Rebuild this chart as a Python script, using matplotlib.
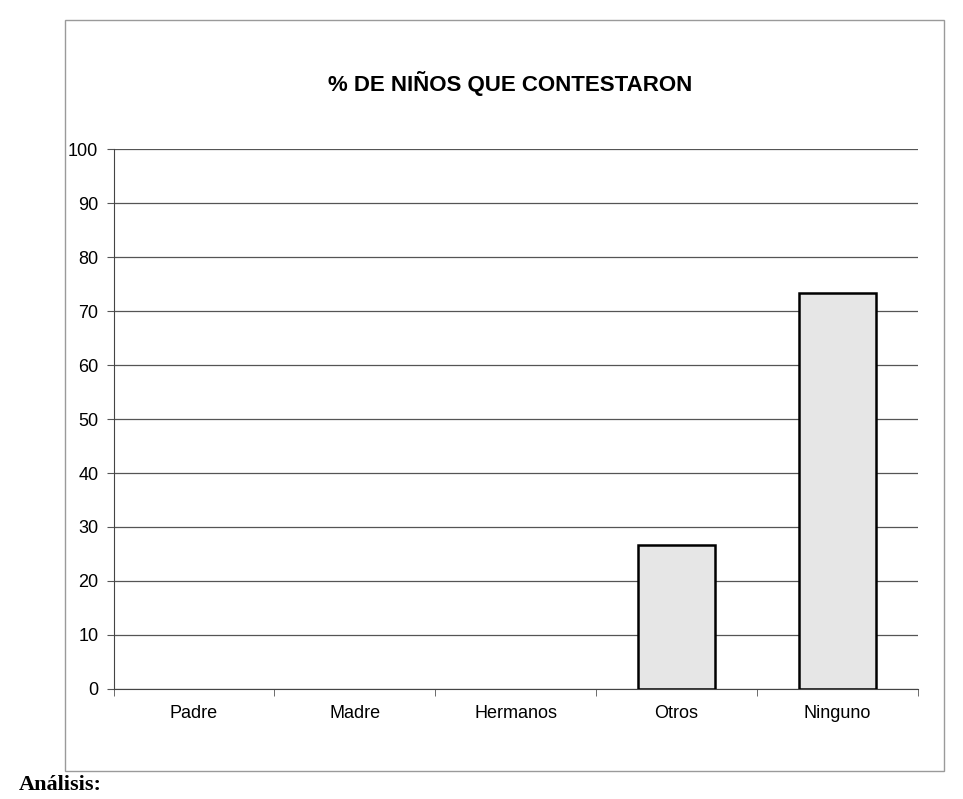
import numpy as np
import matplotlib
matplotlib.use("Agg")
import matplotlib.pyplot as plt
from matplotlib.patches import Rectangle

categories = ["Padre", "Madre", "Hermanos", "Otros", "Ninguno"]
percent = [0, 0, 0, 26.7, 73.3]
y_ticks = [0, 10, 20, 30, 40, 50, 60, 70, 80, 90, 100]

plt.rcParams['font.family'] = ['Liberation Sans', 'DejaVu Sans']


def main():
    fig = plt.figure(figsize=(9.63, 7.99), dpi=100)
    ax = fig.add_axes([0.118, 0.138, 0.835, 0.675])

    # outer chart border, like the Excel chart area
    fig.patches.append(Rectangle((0.068, 0.035), 0.912, 0.94, transform=fig.transFigure,
                                 fill=False, edgecolor="#9a9a9a", linewidth=1.0))

    x = np.arange(len(categories))
    # zero-height bars get no outline, as in the original
    widths = [1.8 if v > 0 else 0 for v in percent]
    ax.bar(x, percent, width=0.48, color="#e6e6e6", edgecolor="black",
           linewidth=widths, zorder=3)

    ax.set_ylim(0, 100)
    ax.set_yticks(y_ticks)
    ax.set_xlim(-0.5, len(categories) - 0.5)
    ax.set_xticks(x)
    ax.set_xticklabels(categories, fontsize=13)
    ax.set_xticks(np.arange(-0.5, len(categories)), minor=True)
    ax.tick_params(axis="x", which="major", length=0, pad=12)
    ax.tick_params(axis="x", which="minor", length=5, color="#555555")
    ax.tick_params(axis="y", labelsize=13, length=5, color="#555555", pad=6)
    ax.yaxis.grid(True, color="#555555", linewidth=0.9, zorder=0)

    for side in ["top", "right"]:
        ax.spines[side].set_visible(False)
    ax.spines["left"].set_color("#444444")
    ax.spines["bottom"].set_color("#444444")

    fig.text(0.53, 0.895, "% DE NIÑOS QUE CONTESTARON", ha="center", va="center",
             fontsize=16, fontweight="bold")
    fig.text(0.02, 0.018, "Análisis:", ha="left", va="center", fontsize=16,
             fontweight="bold", family="Liberation Serif")

    fig.savefig("out.png", dpi=100)


if __name__ == '__main__':
    main()
